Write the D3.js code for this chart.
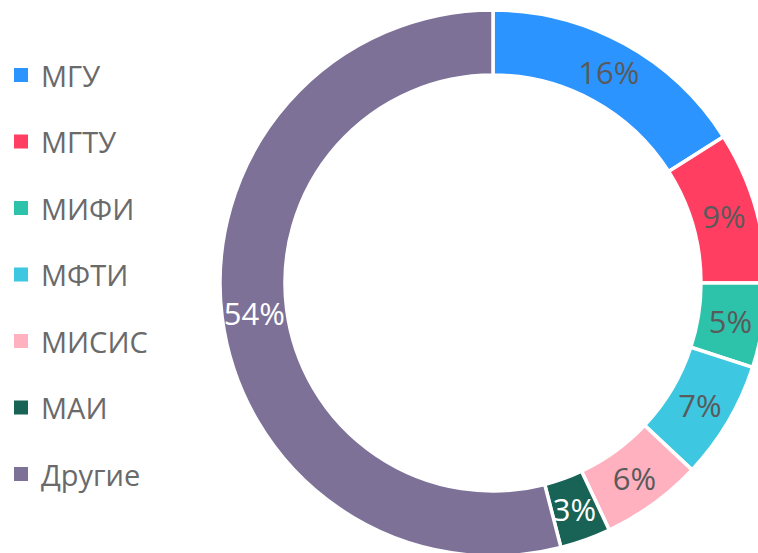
<!DOCTYPE html>
<html><head><meta charset="utf-8">
<script src="https://cdn.jsdelivr.net/npm/d3@7/dist/d3.min.js"></script>
<style>
html,body{margin:0;padding:0;background:#fff;overflow:hidden;}
svg{display:block;font-family:"Open Sans","Segoe UI",sans-serif;}
</style></head>
<body>
<script>
const categories = ["МГУ","МГТУ","МИФИ","МФТИ","МИСИС","МАИ","Другие"];
const values = [16,9,5,7,6,3,54];
const colors = ["#2B94FF","#FF3E62","#2DC3AA","#3DC7E0","#FFB1C0","#186356","#7D7198"];
const labelColors = ["#5a5a5a","#5a5a5a","#5a5a5a","#5a5a5a","#5a5a5a","#ffffff","#ffffff"];

const W = 758, H = 553;
const cx = 493, cy = 283, rOuter = 273, rInner = 208;

const svg = d3.select("body").append("svg").attr("width", W).attr("height", H);

const data = categories.map((c,i)=>({name:c, value:values[i], color:colors[i], lc:labelColors[i]}));
const pie = d3.pie().value(d=>d.value).sort(null);
const arc = d3.arc().innerRadius(rInner).outerRadius(rOuter);
const total = d3.sum(values);

const g = svg.append("g").attr("transform", `translate(${cx},${cy})`);
const arcs = pie(data);
g.selectAll("path").data(arcs).join("path")
  .attr("d", arc)
  .attr("fill", d=>d.data.color)
  .attr("stroke", "#fff")
  .attr("stroke-width", 3.5)
  .attr("stroke-linejoin", "miter");

g.selectAll("text").data(arcs).join("text")
  .attr("transform", d=>`translate(${arc.centroid(d)})`)
  .attr("text-anchor","middle")
  .attr("dominant-baseline","central")
  .attr("font-size", 31)
  .attr("fill", d=>d.data.lc)
  .text(d=>Math.round(d.data.value/total*100)+"%");

const leg = svg.append("g");
const items = leg.selectAll("g").data(data).join("g")
  .attr("transform",(d,i)=>`translate(14,${75 + i*66.5})`);
items.append("rect").attr("x",0).attr("y",-7).attr("width",14).attr("height",14).attr("fill",d=>d.color);
items.append("text").attr("x",27).attr("y",0).attr("dominant-baseline","central")
  .attr("font-size",29).attr("fill","#6a6a6a").text(d=>d.name);
</script>
</body></html>
